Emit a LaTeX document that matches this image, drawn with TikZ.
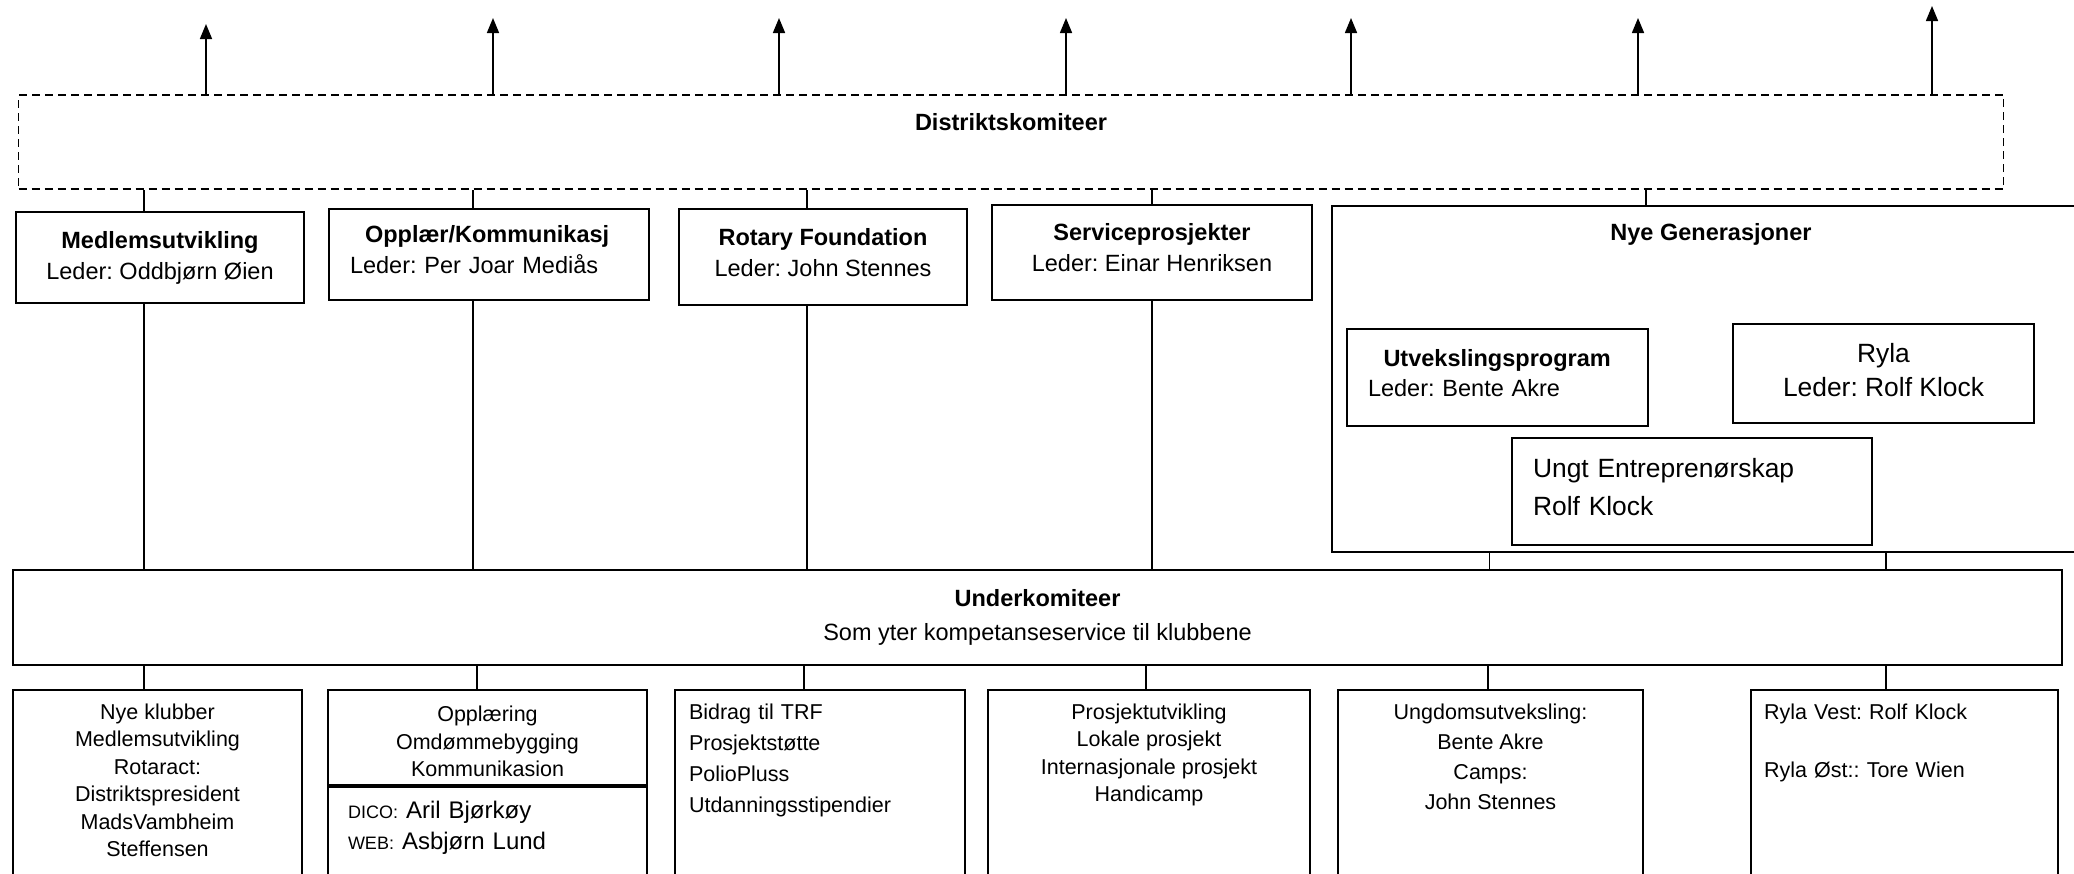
\documentclass[tikz,border=0pt]{standalone}
\usepackage{fontspec}
\setmainfont{Liberation Sans}
\usetikzlibrary{arrows.meta,positioning}
\frenchspacing

\begin{document}
\begin{tikzpicture}[x=1pt,y=-1pt,
    box/.style={draw,line width=2pt,inner sep=0pt,align=center,
      font=\fontsize{23.5}{31}\selectfont},
    bigbox/.style={box,font=\fontsize{26.4}{34}\selectfont},
    lift/.style={text depth=10pt},
    subbox/.style={draw,line width=2pt,anchor=north,inner xsep=0pt,inner ysep=14pt,
      align=center,font=\fontsize{21.5}{27.4}\selectfont},
    opendown/.style={text depth=190pt},
    dashbox/.style={draw,line width=1.6pt,dash pattern=on 8pt off 5pt},
    title/.style={inner sep=0pt,font=\bfseries\fontsize{23.5}{31}\selectfont},
    link/.style={line width=1.6pt},
    uparrow/.style={line width=1.6pt,-{Triangle[length=15pt,width=12pt]}}]
  \useasboundingbox (0,0) rectangle (2074,873);

  % district level
  \node[dashbox,minimum width=1985pt,minimum height=94pt] (distrikt) at (1011,142) {};
  \node[title,below=19pt of distrikt.north] (distrikttitle) {Distriktskomiteer};
  \foreach \x/\t [count=\i] in {206/24,493/18,779/18,1066/18,1351/18,1638/18,1932/6} {
    \coordinate (up\i) at (\x,\t);
    \draw[uparrow] (up\i |- distrikt.north) -- (up\i);
  }

  % committees
  \node[box,minimum width=288pt,minimum height=91pt] (medlem) at (160,257.5)
    {\textbf{Medlemsutvikling}\\Leder: Oddbjørn Øien};
  \node[box,text depth=41pt,minimum width=320pt,minimum height=91pt,align=left,text width=278pt] (opplaer) at (489,254.5)
    {\hspace*{15pt}\textbf{Opplær/Kommunikasj}\\Leder: Per Joar Mediås};
  \node[box,lift,minimum width=288pt,minimum height=96pt] (rotary) at (823,257)
    {\textbf{Rotary Foundation}\\Leder: John Stennes};
  \node[box,lift,minimum width=320pt,minimum height=95pt] (service) at (1152,252.5)
    {\textbf{Serviceprosjekter}\\Leder: Einar Henriksen};
  \node[box,minimum width=758pt,minimum height=346pt] (nyegen) at (1711,379) {};
  \node[title,below=18pt of nyegen.north] (nyetitle) {Nye Generasjoner};
  \node[box,text depth=40pt,minimum width=301pt,minimum height=97pt,align=left,text width=259pt,
    font=\fontsize{23.5}{30}\selectfont] (utveks) at (1497.5,377.5)
    {\hspace*{15.5pt}\textbf{Utvekslingsprogram}\\Leder: Bente Akre};
  \node[bigbox,text depth=8pt,minimum width=301pt,minimum height=99pt] (ryla) at (1883.5,373.5)
    {Ryla\\Leder: Rolf Klock};
  \node[bigbox,text depth=48pt,minimum width=360pt,minimum height=107pt,align=left,text width=318pt,
    font=\fontsize{26.4}{38}\selectfont] (ungt) at (1692,491.5)
    {Ungt Entreprenørskap\\Rolf Klock};

  \foreach \n/\dx in {medlem/-16,opplaer/-16,rotary/-16,service/0,nyegen/-65}
    \draw[link] ([xshift=\dx pt]\n.north) -- ([xshift=\dx pt]\n.north |- distrikt.south);

  % sub committees
  \node[box,minimum width=2049pt,minimum height=95pt,font=\fontsize{23.5}{34}\selectfont] (under) at (1037.5,617.5)
    {\textbf{Underkomiteer}\\Som yter kompetanseservice til klubbene};
  \foreach \n/\dx in {medlem/-16,opplaer/-16,rotary/-16,service/0}
    \draw[link] ([xshift=\dx pt]\n.south) -- ([xshift=\dx pt]\n.south |- under.north);
  \foreach \n/\dx in {utveks/-8,ryla/2.5}
    \draw[link] ([xshift=\dx pt]\n.south |- nyegen.south) -- ([xshift=\dx pt]\n.south |- under.north);

  \node[subbox,opendown,minimum width=289pt] (b1) at (157.5,689)
    {Nye klubber\\Medlemsutvikling\\Rotaract:\\Distriktspresident\\MadsVambheim\\Steffensen};
  \node[subbox,minimum width=319pt,minimum height=95pt,inner ysep=0pt,text height=78.5pt] (b2) at (487.5,689)
    {Opplæring\\Omdømmebygging\\Kommunikasion};
  \node[subbox,opendown,minimum width=319pt,align=left,text width=279pt,inner ysep=14pt,
    font=\fontsize{24}{31}\selectfont] (b2web) at (b2.south)
    {{\fontsize{18}{31}\selectfont DICO:} Aril Bjørkøy\\{\fontsize{18}{31}\selectfont WEB:} Asbjørn Lund};
  \node[subbox,opendown,minimum width=290pt,align=left,text width=262pt,
    font=\fontsize{21.5}{31}\selectfont] (b3) at (820,689)
    {Bidrag til TRF\\Prosjektstøtte\\PolioPluss\\Utdanningsstipendier};
  \node[subbox,opendown,minimum width=322pt] (b4) at (1149,689)
    {Prosjektutvikling\\Lokale prosjekt\\Internasjonale prosjekt\\Handicamp};
  \node[subbox,opendown,minimum width=305pt,font=\fontsize{21.5}{30}\selectfont] (b5) at (1490.5,689)
    {Ungdomsutveksling:\\Bente Akre\\Camps:\\John Stennes};
  \node[subbox,opendown,minimum width=307pt,align=left,text width=281pt,
    font=\fontsize{21.5}{29}\selectfont] (b6) at (1904.5,689)
    {Ryla Vest: Rolf Klock\\[29pt]Ryla Øst:: Tore Wien};

  \foreach \n/\dx in {b1/-13.5,b2/-10.5,b3/-16,b4/-3,b5/-2.5,b6/-18.5}
    \draw[link] ([xshift=\dx pt]\n.north) -- ([xshift=\dx pt]\n.north |- under.south);
\end{tikzpicture}
\end{document}
